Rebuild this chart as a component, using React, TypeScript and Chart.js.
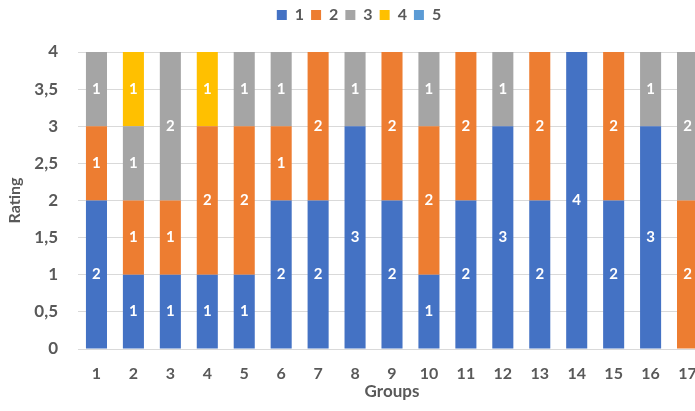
import React, { useEffect, useRef } from "react";
import { Chart, registerables } from "chart.js";

Chart.register(...registerables);

// Group labels along the x axis
const groups = ["1", "2", "3", "4", "5", "6", "7", "8", "9", "10", "11", "12", "13", "14", "15", "16", "17"];

// Number of ratings per score in each group
const rating1 = [2, 1, 1, 1, 1, 2, 2, 3, 2, 1, 2, 3, 2, 4, 2, 3, 0];
const rating2 = [1, 1, 1, 2, 2, 1, 2, 0, 2, 2, 2, 0, 2, 0, 2, 0, 2];
const rating3 = [1, 1, 2, 0, 1, 1, 0, 1, 0, 1, 0, 1, 0, 0, 0, 1, 2];
const rating4 = [0, 1, 0, 1, 0, 0, 0, 0, 0, 0, 0, 0, 0, 0, 0, 0, 0];
const rating5 = [0, 0, 0, 0, 0, 0, 0, 0, 0, 0, 0, 0, 0, 0, 0, 0, 0];

const seriesNames = ["1", "2", "3", "4", "5"];
const seriesColors = ["#4472C4", "#ED7D31", "#A5A5A5", "#FFC000", "#5B9BD5"];

const FONT = "Lato, 'Open Sans', sans-serif";
const TEXT_COLOR = "#595959";
const GRID_COLOR = "#D9D9D9";

// Writes each segment's count in white at its centre
const segmentLabels = {
  id: "segmentLabels",
  afterDatasetsDraw(chart: any) {
    const { ctx } = chart;
    ctx.save();
    ctx.fillStyle = "#FFFFFF";
    ctx.font = `bold 15px ${FONT}`;
    ctx.textAlign = "center";
    ctx.textBaseline = "middle";
    chart.data.datasets.forEach((ds: any, di: number) => {
      const meta = chart.getDatasetMeta(di);
      if (meta.hidden) return;
      meta.data.forEach((bar: any, i: number) => {
        const v = ds.data[i];
        if (!v) return;
        const { x, y, base } = bar.getProps(["x", "y", "base"], true);
        ctx.fillText(String(v), x, (y + base) / 2);
      });
    });
    ctx.restore();
  },
};

export default function App() {
  const canvasRef = useRef<HTMLCanvasElement | null>(null);

  useEffect(() => {
    if (!canvasRef.current) return;
    const values = [rating1, rating2, rating3, rating4, rating5];
    const chart = new Chart(canvasRef.current, {
      type: "bar",
      data: {
        labels: groups,
        datasets: values.map((data, i) => ({
          label: seriesNames[i],
          data,
          backgroundColor: seriesColors[i],
          borderWidth: 0,
          barPercentage: 0.57,
          categoryPercentage: 1,
        })),
      },
      options: {
        responsive: false,
        animation: false,
        layout: { padding: { left: 12, right: 10, top: 0, bottom: 0 } },
        plugins: {
          legend: {
            position: "top",
            labels: {
              boxWidth: 10,
              boxHeight: 10,
              padding: 7,
              color: TEXT_COLOR,
              font: { family: FONT, size: 16, weight: "bold" },
            },
          },
          title: {
            display: true,
            text: "",
            weight: 500,
            font: { size: 10 },
            padding: { top: 0, bottom: 7 },
          },
          tooltip: { enabled: false },
        },
        scales: {
          x: {
            stacked: true,
            grid: { display: false },
            border: { color: GRID_COLOR, width: 1 },
            ticks: {
              color: TEXT_COLOR,
              padding: 7,
              font: { family: FONT, size: 16, weight: "bold" },
            },
            title: {
              display: true,
              text: "Groups",
              color: TEXT_COLOR,
              font: { family: FONT, size: 17, weight: "bold" },
              padding: { top: 0, bottom: 9 },
            },
            afterFit(scale: any) {
              scale.height = 62;
            },
          },
          y: {
            stacked: true,
            min: 0,
            max: 4,
            grid: { color: GRID_COLOR, drawTicks: false },
            border: { display: false },
            ticks: {
              stepSize: 0.5,
              padding: 20,
              color: TEXT_COLOR,
              font: { family: FONT, size: 17, weight: "bold" },
              callback: (v: any) => String(v).replace(".", ","),
            },
            title: {
              display: true,
              text: "Rating",
              color: TEXT_COLOR,
              font: { family: FONT, size: 16, weight: "bold" },
              padding: { top: -7, bottom: 0 },
            },
            afterFit(scale: any) {
              scale.width = 66;
            },
          },
        },
      },
      plugins: [segmentLabels],
    });
    return () => chart.destroy();
  }, []);

  return (
    <div
      style={{
        position: "absolute",
        left: 0,
        top: 0,
        width: 695,
        height: 411,
        overflow: "hidden",
        background: "#FFFFFF",
      }}
    >
      <canvas ref={canvasRef} width={716} height={411} style={{ display: "block" }} />
    </div>
  );
}
